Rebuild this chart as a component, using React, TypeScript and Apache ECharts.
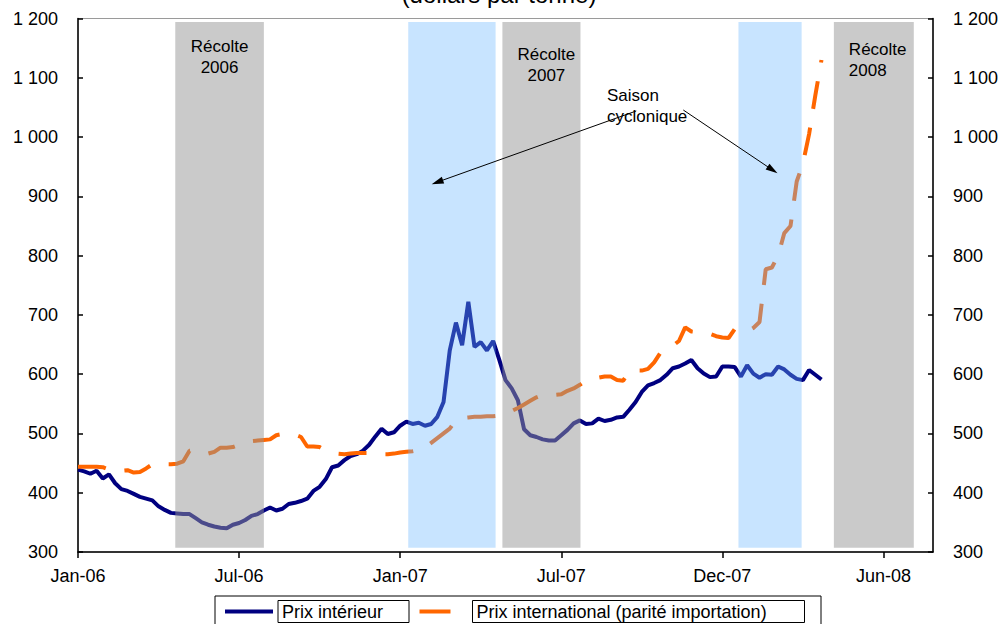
import React, { useEffect, useRef } from 'react';
import * as echarts from 'echarts';

const FONT = '"Liberation Sans", Arial, Helvetica, sans-serif';

// x axis: week index from the first week of January 2006
const tickWeeks = [0, 26, 52, 78, 104, 130];
const tickLabels = ['Jan-06', 'Jul-06', 'Jan-07', 'Jul-07', 'Dec-07', 'Jun-08'];
const seriesNames = ['Prix intérieur', 'Prix international (parité importation)'];

// weekly prices, dollars per tonne
const domesticPrice = [
  439, 436, 432, 437, 424, 431, 416, 406, 403, 398,
  393, 390, 387, 377, 371, 366, 365, 364, 364, 357,
  350, 346, 343, 341, 340, 346, 349, 354, 361, 364,
  370, 375, 370, 373, 381, 383, 386, 390, 403, 410,
  423, 443, 446, 455, 462, 465, 471, 481, 495, 508,
  499, 502, 513, 520, 516, 518, 513, 516, 528, 553,
  640, 687, 649, 722, 646, 654, 640, 656, 624, 590,
  576, 556, 507, 497, 494, 490, 488, 488, 497, 506,
  517, 522, 516, 517, 525, 521, 523, 527, 528, 540,
  553, 570, 581, 585, 590, 599, 610, 613, 618, 624,
  610, 601, 595, 596, 613, 613, 612, 596, 615, 601,
  594, 600, 599, 613, 608, 599, 592, 590, 607, 599,
  591,
];

const importParity = [
  444, 444, 444, 444, 443, 439, 437, 437, 438, 434,
  435, 441, 448, 449, 448, 448, 449, 453, 471, 472,
  470, 466, 469, 476, 476, 477, 481, 484, 487, 488,
  489, 490, 497, 499, 499, 498, 494, 478, 478, 477,
  471, 468, 466, 465, 466, 467, 467, 467, 466, 465,
  465, 466, 468, 469, 470, 472, 476, 484, 492, 500,
  508, 523, 526, 527, 528, 528, 529, 529, 530, 533,
  538, 543, 549, 555, 561, 565, 566, 565, 566, 572,
  576, 582, 589, 592, 594, 596, 596, 590, 589, 606,
  606, 606, 609, 620, 636, 644, 648, 656, 679, 672,
  671, 670, 668, 664, 662, 661, 676, 674, 672, 678,
  688, 777, 780, 800, 838, 850, 925, 955, 1005, 1070,
  1130,
];

// shaded periods, in weeks
const harvestPeriods = [[15.7, 30.0], [68.5, 81.1], [122.0, 134.9]];
const harvestLabels = ['Récolte\n2006', 'Récolte\n2007', 'Récolte\n2008'];
const cyclonePeriods = [[53.3, 67.4], [106.6, 116.8]];

// annotation arrows (data coordinates: week, price)
const arrowCoords = [
  [[90.1, 1044], [58.0, 924]],
  [[97.7, 1045.6], [112.1, 944.4]],
];

// label placement inside harvest boxes: [dx, dy, align]
const harvestLabelLayout: [number | 'center', number, string][] = [
  ['center', 14, 'center'],
  [44, 22, 'center'],
  [15, 17, 'left'],
];

const REGION_TOP = 1194;
const REGION_BOTTOM = 307;

const fmtY = (v: number) =>
  v >= 1000 ? `${Math.floor(v / 1000)} ${String(v % 1000).padStart(3, '0')}` : String(v);

export default function App() {
  const ref = useRef<HTMLDivElement>(null);

  useEffect(() => {
    const el = ref.current!;
    const chart = echarts.init(el, null, { renderer: 'svg' });

    const regionData = [
      ...harvestPeriods.map((p, i) => ({ value: [p[0], p[1]], kind: 'harvest', idx: i })),
      ...cyclonePeriods.map((p, i) => ({ value: [p[0], p[1]], kind: 'cyclone', idx: i })),
    ];

    const option: any = {
      animation: false,
      backgroundColor: '#ffffff',
      textStyle: { fontFamily: FONT },
      grid: {
        left: 78,
        right: 72,
        top: 18.5,
        bottom: 72,
        show: true,
        borderColor: '#9a9a9a',
        borderWidth: 1,
        backgroundColor: 'transparent',
        containLabel: false,
        outerBoundsMode: 'none',
      },
      legend: {
        left: 215,
        top: 596,
        orient: 'horizontal',
        selectedMode: false,
        itemWidth: 48,
        itemHeight: 14,
        itemGap: 8,
        padding: [4, 16, 4, 8],
        borderColor: '#000',
        borderWidth: 1,
        backgroundColor: '#fff',
        itemStyle: { opacity: 0 },
        lineStyle: { width: 4 },
        textStyle: {
          fontFamily: FONT,
          fontSize: 18,
          color: '#000',
          lineHeight: 20,
          borderColor: '#000',
          borderWidth: 1,
          padding: [1, 4, 1, 4],
        },
        data: [
          { name: seriesNames[0], textStyle: { width: 123 } },
          {
            name: seriesNames[1],
            textStyle: { width: 324 },
            lineStyle: { type: [31, 40], width: 4 },
          },
        ],
      },
      xAxis: {
        type: 'value',
        min: 0,
        max: 138,
        interval: 26,
        axisLine: { show: true, onZero: false, lineStyle: { color: '#000', width: 1.5 } },
        axisTick: {
          show: true,
          inside: false,
          length: 6,
          customValues: tickWeeks,
          lineStyle: { color: '#000', width: 1.5 },
        },
        axisLabel: {
          customValues: tickWeeks,
          formatter: (v: number) => tickLabels[tickWeeks.indexOf(v)] ?? '',
          margin: 15,
          fontSize: 18,
          color: '#000',
          fontFamily: FONT,
        },
        splitLine: { show: false },
      },
      yAxis: [0, 1].map((i) => ({
        type: 'value',
        position: i === 0 ? 'left' : 'right',
        min: 300,
        max: 1200,
        interval: 100,
        axisLine: { show: true, onZero: false, lineStyle: { color: '#000', width: 1.5 } },
        axisTick: { show: true, inside: true, length: 5, lineStyle: { color: '#000', width: 1.5 } },
        axisLabel: {
          formatter: fmtY,
          margin: 20,
          fontSize: 18,
          color: '#000',
          fontFamily: FONT,
        },
        splitLine: { show: false },
      })),
      graphic: [
        {
          type: 'text',
          x: 499,
          y: -6,
          style: {
            text: '(dollars par tonne)',
            font: `24px ${FONT}`,
            fill: '#000',
            align: 'center',
            verticalAlign: 'middle',
          },
        },
        {
          type: 'text',
          x: 607,
          y: 85,
          z: 20,
          style: {
            text: 'Saison\ncyclonique',
            font: `17px ${FONT}`,
            lineHeight: 21,
            fill: '#000',
            align: 'left',
            verticalAlign: 'top',
          },
        },
      ],
      series: [
        {
          name: seriesNames[0],
          type: 'line',
          z: 2,
          symbol: 'none',
          data: domesticPrice.map((v, i) => [i, v]),
          lineStyle: { color: '#000080', width: 4 },
          itemStyle: { color: '#000080' },
          markLine: {
            silent: true,
            symbol: ['none', 'triangle'],
            symbolSize: [7, 12],
            label: { show: false },
            lineStyle: { color: '#000', width: 1, type: 'solid' },
            data: arrowCoords.map(([a, b]) => [{ coord: a }, { coord: b }]),
          },
        },
        {
          name: seriesNames[1],
          type: 'line',
          z: 2,
          symbol: 'none',
          data: importParity.map((v, i) => [i, v]),
          lineStyle: { color: '#FF6600', width: 4, type: [28, 19], cap: 'butt' },
          itemStyle: { color: '#FF6600' },
        },
        {
          name: 'regions',
          type: 'custom',
          z: 3,
          silent: true,
          encode: { x: [0, 1] },
          data: regionData,
          renderItem: (params: any, api: any) => {
            const item = regionData[params.dataIndex];
            const p1 = api.coord([item.value[0], REGION_TOP]);
            const p2 = api.coord([item.value[1], REGION_BOTTOM]);
            const w = p2[0] - p1[0];
            const h = p2[1] - p1[1];
            const children: any[] = [
              {
                type: 'rect',
                shape: { x: p1[0], y: p1[1], width: w, height: h },
                style: {
                  fill: item.kind === 'harvest' ? 'rgba(150,150,150,0.5)' : 'rgba(107,182,255,0.37)',
                },
              },
            ];
            if (item.kind === 'harvest') {
              const [dx, dy, align] = harvestLabelLayout[item.idx];
              children.push({
                type: 'text',
                style: {
                  text: harvestLabels[item.idx],
                  x: dx === 'center' ? p1[0] + w / 2 : p1[0] + dx,
                  y: p1[1] + dy,
                  font: `17px ${FONT}`,
                  lineHeight: 21,
                  fill: '#000',
                  align,
                  verticalAlign: 'top',
                },
              });
            }
            return { type: 'group', children };
          },
        },
      ],
    };

    chart.setOption(option);
    return () => chart.dispose();
  }, []);

  return (
    <div
      ref={ref}
      style={{ position: 'fixed', left: 0, top: 0, width: 1005, height: 624, background: '#fff' }}
    />
  );
}
